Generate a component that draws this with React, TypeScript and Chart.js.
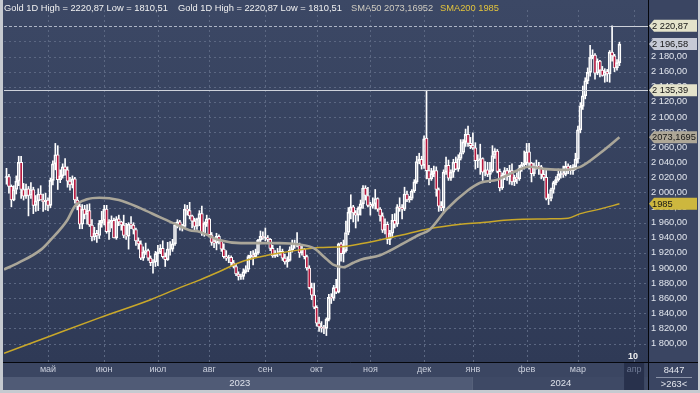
import React, { useEffect, useRef } from "react";
import { Chart, registerables } from "chart.js";
Chart.register(...registerables);

const FONT = '"Liberation Sans", Arial, sans-serif';

// [open, high, low, close] per trading day
const apr23 = [
  [2020, 2032, 2011, 2021], [2021, 2024, 1999, 2008], [2008, 2010, 1981, 1990], [1990, 2009, 1989, 2004],
  [2004, 2022, 1998, 2015], [2015, 2048, 2009, 2040], [2040, 2048, 1992, 2004], [2004, 2012, 1990, 1995],
  [1995, 2011, 1992, 2005], [2005, 2008, 1969, 1996], [1996, 2013, 1992, 2004], [2004, 2007, 1972, 1983],
  [1983, 1996, 1975, 1989], [1989, 2005, 1976, 1998], [1998, 2009, 1992, 1990], [1990, 1998, 1975, 1988],
  [1988, 1999, 1977, 1990],
];
const may23 = [
  [1990, 1993, 1976, 1983], [1983, 2019, 1980, 2016], [2016, 2042, 2010, 2038], [2038, 2065, 2030, 2050],
  [2050, 2062, 2004, 2017], [2017, 2030, 2013, 2022], [2022, 2038, 2019, 2034], [2034, 2045, 2023, 2030],
  [2030, 2034, 2007, 2015], [2015, 2020, 2003, 2010], [2010, 2022, 2006, 2018], [2018, 2020, 1986, 1990],
  [1990, 1994, 1977, 1982], [1982, 1985, 1952, 1958], [1958, 1984, 1952, 1978], [1978, 1983, 1965, 1971],
  [1971, 1984, 1958, 1976], [1976, 1985, 1955, 1957], [1957, 1964, 1936, 1941], [1941, 1954, 1937, 1946],
  [1946, 1950, 1934, 1943], [1943, 1963, 1939, 1959], [1959, 1975, 1954, 1963],
];
const jun23 = [
  [1963, 1983, 1957, 1978], [1978, 1983, 1946, 1948], [1948, 1964, 1938, 1961], [1961, 1969, 1953, 1963],
  [1963, 1966, 1940, 1940], [1940, 1968, 1938, 1965], [1965, 1970, 1956, 1961], [1961, 1962, 1950, 1957],
  [1957, 1970, 1940, 1943], [1943, 1959, 1938, 1942], [1942, 1960, 1925, 1958], [1958, 1968, 1952, 1957],
  [1957, 1960, 1945, 1951], [1951, 1953, 1930, 1936], [1936, 1940, 1925, 1932], [1932, 1936, 1911, 1913],
  [1913, 1928, 1910, 1921], [1921, 1933, 1918, 1923], [1923, 1925, 1910, 1913], [1913, 1916, 1903, 1907],
  [1907, 1911, 1893, 1908], [1908, 1922, 1902, 1919],
];
const jul23 = [
  [1919, 1930, 1903, 1921], [1921, 1931, 1919, 1926], [1926, 1936, 1913, 1915], [1915, 1920, 1902, 1911],
  [1911, 1934, 1910, 1925], [1925, 1935, 1917, 1925], [1925, 1938, 1922, 1932], [1932, 1960, 1930, 1957],
  [1957, 1964, 1953, 1961], [1961, 1963, 1950, 1955], [1955, 1958, 1949, 1955], [1955, 1984, 1953, 1978],
  [1978, 1983, 1970, 1976], [1976, 1987, 1965, 1969], [1969, 1970, 1953, 1962], [1962, 1966, 1950, 1955],
  [1955, 1966, 1951, 1965], [1965, 1976, 1956, 1972], [1972, 1982, 1943, 1946], [1946, 1961, 1942, 1959],
  [1959, 1970, 1955, 1965],
];
const aug23 = [
  [1965, 1966, 1941, 1944], [1944, 1947, 1930, 1934], [1934, 1938, 1927, 1933], [1933, 1946, 1924, 1942],
  [1942, 1944, 1932, 1936], [1936, 1937, 1922, 1925], [1925, 1932, 1913, 1915], [1915, 1923, 1910, 1913],
  [1913, 1917, 1907, 1914], [1914, 1916, 1903, 1907], [1907, 1910, 1900, 1902], [1902, 1905, 1890, 1892],
  [1892, 1895, 1884, 1889], [1889, 1892, 1885, 1889], [1889, 1899, 1885, 1895], [1895, 1903, 1893, 1898],
  [1898, 1917, 1895, 1915], [1915, 1922, 1912, 1917], [1917, 1923, 1904, 1915], [1915, 1925, 1914, 1920],
  [1920, 1938, 1918, 1937], [1937, 1949, 1932, 1942], [1942, 1948, 1938, 1940],
];
const sep23 = [
  [1940, 1953, 1936, 1940], [1940, 1943, 1934, 1938], [1938, 1939, 1923, 1926], [1926, 1930, 1914, 1916],
  [1916, 1923, 1914, 1919], [1919, 1926, 1915, 1919], [1919, 1929, 1917, 1922], [1922, 1925, 1910, 1913],
  [1913, 1918, 1905, 1908], [1908, 1915, 1901, 1910], [1910, 1928, 1909, 1924], [1924, 1937, 1921, 1933],
  [1933, 1937, 1926, 1931], [1931, 1947, 1928, 1930], [1930, 1933, 1914, 1920], [1920, 1930, 1917, 1925],
  [1925, 1926, 1912, 1915], [1915, 1917, 1897, 1900], [1900, 1903, 1872, 1874], [1874, 1880, 1858, 1864],
  [1864, 1880, 1846, 1848],
];
const oct23 = [
  [1848, 1850, 1823, 1827], [1827, 1835, 1816, 1822], [1822, 1829, 1815, 1821], [1821, 1824, 1813, 1820],
  [1820, 1834, 1810.51, 1832], [1832, 1865, 1830, 1861], [1861, 1866, 1853, 1860], [1860, 1877, 1857, 1874],
  [1874, 1885, 1866, 1868], [1868, 1933, 1867, 1932], [1932, 1934, 1909, 1919], [1919, 1937, 1908, 1923],
  [1923, 1962, 1921, 1947], [1947, 1980, 1944, 1974], [1974, 1997, 1965, 1981], [1981, 1983, 1961, 1973],
  [1973, 1976, 1953, 1970], [1970, 1981, 1962, 1979], [1979, 1990, 1970, 1985], [1985, 2009, 1979, 2006],
  [2006, 2009, 1990, 1996], [1996, 2007, 1981, 1983],
];
const nov23 = [
  [1983, 1987, 1970, 1982], [1982, 1993, 1979, 1985], [1985, 2004, 1978, 1992], [1992, 1993, 1975, 1978],
  [1978, 1980, 1962, 1969], [1969, 1973, 1947, 1950], [1950, 1965, 1945, 1958], [1958, 1961, 1932, 1938],
  [1938, 1950, 1931, 1946], [1946, 1971, 1940, 1963], [1963, 1972, 1953, 1958], [1958, 1984, 1955, 1981],
  [1981, 1993, 1975, 1980], [1980, 1984, 1965, 1978], [1978, 2007, 1976, 1998], [1998, 2002, 1988, 1990],
  [1990, 1995, 1987, 1992], [1992, 2004, 1990, 2002], [2002, 2017, 2000, 2014], [2014, 2048, 2012, 2041],
  [2041, 2052, 2038, 2044], [2044, 2048, 2031, 2036],
];
const dec23 = [
  [2036, 2075, 2032, 2071], [2072, 2135.39, 2018, 2029], [2029, 2036, 2010, 2018], [2018, 2032, 2016, 2025],
  [2025, 2035, 2021, 2029], [2029, 2034, 1995, 2004], [2004, 2006, 1975, 1982], [1982, 1988, 1976, 1980],
  [1980, 2030, 1973, 2027], [2027, 2047, 2024, 2036], [2036, 2043, 2016, 2019], [2019, 2030, 2016, 2027],
  [2027, 2044, 2020, 2040], [2040, 2047, 2030, 2031], [2031, 2050, 2028, 2045], [2045, 2070, 2043, 2053],
  [2053, 2070, 2051, 2067], [2067, 2084, 2061, 2077], [2077, 2088, 2061, 2065], [2065, 2073, 2058, 2062],
];
const jan24 = [
  [2062, 2079, 2057, 2059], [2059, 2066, 2031, 2042], [2042, 2050, 2033, 2043], [2043, 2064, 2024, 2045],
  [2045, 2046, 2016, 2027], [2027, 2041, 2022, 2030], [2030, 2040, 2021, 2024], [2024, 2040, 2013, 2029],
  [2029, 2062, 2027, 2049], [2049, 2058, 2045, 2055], [2055, 2057, 2026, 2028], [2028, 2031, 2002, 2006],
  [2006, 2026, 2004, 2023], [2023, 2033, 2017, 2029], [2029, 2032, 2016, 2021], [2021, 2036, 2011, 2029],
  [2029, 2038, 2010, 2014], [2014, 2023, 2009, 2020], [2020, 2026, 2012, 2018], [2018, 2036, 2016, 2032],
  [2032, 2040, 2028, 2037], [2037, 2055, 2031, 2039],
];
const feb24 = [
  [2039, 2065, 2036, 2054], [2054, 2065, 2031, 2039], [2039, 2040, 2014, 2025], [2025, 2039, 2022, 2035],
  [2035, 2043, 2031, 2035], [2035, 2040, 2024, 2034], [2034, 2036, 2018, 2024], [2024, 2032, 2016, 2020],
  [2020, 2031, 1990, 1992], [1992, 1998, 1984, 1992], [1992, 2006, 1989, 2004], [2004, 2015, 1999, 2013],
  [2013, 2021, 2010, 2017], [2017, 2031, 2015, 2024], [2024, 2030, 2019, 2025], [2025, 2035, 2020, 2024],
  [2024, 2041, 2022, 2035], [2035, 2038, 2025, 2031], [2031, 2036, 2024, 2029], [2029, 2037, 2024, 2034],
  [2034, 2052, 2030, 2044],
];
const mar24 = [
  [2044, 2088, 2039, 2083], [2083, 2119, 2079, 2114], [2114, 2141, 2110, 2128], [2128, 2152, 2124, 2148],
  [2148, 2165, 2144, 2159], [2159, 2195, 2154, 2179], [2179, 2189, 2177, 2182], [2182, 2184, 2150, 2158],
  [2158, 2177, 2156, 2174], [2174, 2175, 2153, 2162], [2162, 2167, 2154, 2155], [2155, 2164, 2146, 2160],
  [2160, 2163, 2147, 2157], [2157, 2188, 2146, 2186], [2186, 2220.87, 2174, 2181], [2181, 2183, 2160, 2165],
  [2165, 2176, 2162, 2172], [2172, 2199, 2168, 2196.58],
];

const monthBlocks = [apr23, may23, jun23, jul23, aug23, sep23, oct23, nov23, dec23, jan24, feb24, mar24];
const monthNames = ["май", "июн", "июл", "авг", "сен", "окт", "ноя", "дек", "янв", "фев", "мар", "апр"];
const aprIndex = 257; // axis position of the (future) April label
const yearNames = ["2023", "2024"];
const yearLabelIdx = [95.5, 227];

// moving averages (candle index -> value)
const sma50At = [-1, 5, 14, 18, 25, 28, 33, 38, 46, 55, 63, 70, 75, 79, 87, 96, 104, 112, 120, 126, 130, 134, 138, 142, 145, 153, 161, 169, 173, 180, 189, 194, 201, 207, 214, 221, 228, 235, 243, 251];
const sma50Val = [1898, 1907, 1924, 1937, 1964, 1982, 1991, 1993, 1990, 1979, 1967, 1957, 1950, 1948, 1937, 1933, 1933, 1933, 1931, 1926, 1915, 1904, 1901, 1907, 1911, 1917, 1930, 1944, 1950, 1977, 2003, 2013, 2017, 2026, 2034, 2031, 2030, 2034, 2052, 2073.17];
const sma200At = [-1, 18, 38, 59, 71, 79, 87, 96, 104, 112, 120, 128, 137, 145, 161, 173, 186, 194, 207, 221, 230, 235, 243, 251];
const sma200Val = [1787, 1810, 1834, 1858, 1874, 1884, 1895, 1908, 1915, 1920, 1924, 1927, 1928, 1932, 1943, 1952, 1958, 1960, 1964, 1965, 1966, 1972, 1978, 1985];

const yTicks = [1800, 1820, 1840, 1860, 1880, 1900, 1920, 1940, 1960, 1980, 2000, 2020, 2040, 2060, 2080, 2100, 2120, 2140, 2160, 2180, 2200, 2220];
const markerValues = [2220.87, 2196.58, 2135.39, 2073.1695, 1985];
const markerTexts = ["2 220,87", "2 196,58", "2 135,39", "2073,1695", "1985"];
const markerColors = ["#e4e3cb", "#c6cad6", "#e4e3cb", "#aea797", "#cdb73e"];
const highValue = 2220.87;
const levelValue = 2135.39;

const headerItems = [
  { text: "Gold 1D High = 2220,87 Low = 1810,51", x: 4, color: "#f2f2f2" },
  { text: "Gold 1D High = 2220,87 Low = 1810,51", x: 178, color: "#f2f2f2" },
  { text: "SMA50 2073,16952", x: 351, color: "#cfcbc0" },
  { text: "SMA200 1985", x: 440, color: "#e3c43c" },
];
const cornerTop = "8447";
const cornerBottom = ">263<";
const barsLabel = "10";

const Y_MIN = 1775.5;
const Y_MAX = 2241.7;
const X_MIN = -1.02;
const X_MAX = 262.7;

const candles = monthBlocks.flat();

function fmtTick(v: number): string {
  const s = v.toFixed(2);
  const [i, d] = s.split(".");
  return i.replace(/\B(?=(\d{3})+(?!\d))/g, " ") + "," + d;
}

function monthStarts(): number[] {
  let idx = 0;
  const starts: number[] = [];
  monthBlocks.forEach((m, k) => { if (k > 0) starts.push(idx); idx += m.length; });
  return starts;
}

const decorPlugin = {
  id: "decor",
  beforeDraw(chart: any) {
    const { ctx, chartArea: a } = chart;
    const W = chart.width, H = chart.height;
    ctx.save();
    ctx.fillStyle = "#c6cad0";
    ctx.fillRect(0, 0, W, H);
    const g = ctx.createLinearGradient(0, 0, 0, a.bottom);
    g.addColorStop(0, "#3c4865");
    g.addColorStop(1, "#2f3a56");
    ctx.fillStyle = g;
    ctx.fillRect(3, 0, a.right - 3, a.bottom);
    ctx.fillStyle = "#3a4562";
    ctx.fillRect(a.right, 0, W - a.right - 2, a.bottom);
    ctx.fillStyle = "#3b4662";
    ctx.fillRect(3, a.bottom, a.right - 3, 15);
    const x = chart.scales.x;
    const janX = x.getPixelForValue(monthStarts()[8]);
    ctx.fillStyle = "#505b76";
    ctx.fillRect(3, a.bottom + 15, janX - 3, 13);
    ctx.fillStyle = "#3e4965";
    ctx.fillRect(janX, a.bottom + 15, a.right - janX, 13);
    ctx.fillStyle = "#3a4562";
    ctx.fillRect(a.right, a.bottom, W - a.right - 2, 28);
    ctx.restore();
  },
  beforeDatasetsDraw(chart: any) {
    const { ctx, chartArea: a } = chart;
    const x = chart.scales.x, y = chart.scales.y;
    ctx.save();
    ctx.beginPath();
    ctx.rect(a.left, a.top, a.right - a.left, a.bottom - a.top);
    ctx.clip();
    ctx.strokeStyle = "#5b6782";
    ctx.lineWidth = 1;
    ctx.setLineDash([2, 3]);
    for (const v of yTicks) {
      const py = Math.round(y.getPixelForValue(v)) + 0.5;
      ctx.beginPath();
      ctx.moveTo(a.left, py);
      ctx.lineTo(a.right, py);
      ctx.stroke();
    }
    const starts = monthStarts();
    starts.push(aprIndex);
    for (const s of starts) {
      const px = Math.round(x.getPixelForValue(s)) + 0.5;
      ctx.beginPath();
      ctx.moveTo(px, a.top);
      ctx.lineTo(px, a.bottom);
      ctx.stroke();
    }
    // high level: bright dashed line across the plot
    const hiY = Math.round(y.getPixelForValue(highValue)) + 0.5;
    ctx.strokeStyle = "#aeb6c6";
    ctx.setLineDash([3, 2]);
    ctx.beginPath();
    ctx.moveTo(a.left, hiY);
    ctx.lineTo(a.right, hiY);
    ctx.stroke();
    ctx.restore();
  },
  afterDraw(chart: any) {
    const { ctx, chartArea: a } = chart;
    const x = chart.scales.x, y = chart.scales.y;
    const W = chart.width, H = chart.height;
    ctx.save();
    ctx.strokeStyle = "#cdd1da";
    ctx.lineWidth = 1;
    const lvY = Math.round(y.getPixelForValue(levelValue)) + 0.5;
    ctx.beginPath();
    ctx.moveTo(a.left, lvY);
    ctx.lineTo(a.right, lvY);
    ctx.stroke();
    let hiIdx = 0;
    candles.forEach((c, i) => { if (c[1] === highValue) hiIdx = i; });
    const hiY = Math.round(y.getPixelForValue(highValue)) + 0.5;
    ctx.beginPath();
    ctx.moveTo(x.getPixelForValue(hiIdx), hiY);
    ctx.lineTo(a.right, hiY);
    ctx.stroke();

    ctx.strokeStyle = "#05070c";
    ctx.beginPath();
    ctx.moveTo(a.right + 0.5, 0);
    ctx.lineTo(a.right + 0.5, H - 3);
    ctx.moveTo(3, a.bottom + 0.5);
    ctx.lineTo(W - 2, a.bottom + 0.5);
    ctx.stroke();

    ctx.font = `9.3px ${FONT}`;
    ctx.textBaseline = "alphabetic";
    ctx.textAlign = "left";
    for (const h of headerItems) {
      ctx.fillStyle = h.color;
      ctx.fillText(h.text, h.x, 11);
    }

    markerValues.forEach((v, i) => {
      const py = y.getPixelForValue(v);
      const x0 = a.right + 1;
      ctx.fillStyle = markerColors[i];
      ctx.beginPath();
      ctx.moveTo(x0, py);
      ctx.lineTo(x0 + 5, py - 6);
      ctx.lineTo(W - 3, py - 6);
      ctx.lineTo(W - 3, py + 6);
      ctx.lineTo(x0 + 5, py + 6);
      ctx.closePath();
      ctx.fill();
      ctx.fillStyle = "#161616";
      ctx.font = `9.3px ${FONT}`;
      ctx.textBaseline = "middle";
      ctx.fillText(markerTexts[i], x0 + 3, py + 0.5);
    });

    ctx.textAlign = "center";
    ctx.textBaseline = "middle";
    ctx.font = `9px ${FONT}`;
    monthStarts().forEach((s, k) => {
      ctx.fillStyle = "#c9cedb";
      ctx.fillText(monthNames[k], x.getPixelForValue(s), a.bottom + 8);
    });
    const ax = x.getPixelForValue(aprIndex);
    ctx.fillStyle = "#28314c";
    ctx.fillRect(ax - 10, a.bottom + 1, 20, 27);
    ctx.fillStyle = "#6d7893";
    ctx.fillText(monthNames[11], ax, a.bottom + 8);
    ctx.font = `9.5px ${FONT}`;
    ctx.fillStyle = "#dde1ea";
    yearNames.forEach((t, k) => ctx.fillText(t, x.getPixelForValue(yearLabelIdx[k]), a.bottom + 21));

    ctx.font = `bold 9px ${FONT}`;
    ctx.fillStyle = "#f0f0f0";
    ctx.fillText(barsLabel, ax - 1, a.bottom - 5);

    ctx.font = `9.3px ${FONT}`;
    ctx.fillStyle = "#e4e7ee";
    const cx = (a.right + W) / 2;
    ctx.fillText(cornerTop, cx, a.bottom + 8);
    ctx.fillText(cornerBottom, cx, a.bottom + 22);
    ctx.strokeStyle = "#8a93a8";
    ctx.beginPath();
    ctx.moveTo(a.right + 8, a.bottom + 15.5);
    ctx.lineTo(W - 8, a.bottom + 15.5);
    ctx.stroke();
    ctx.restore();
  },
};

export default function App() {
  const ref = useRef<HTMLCanvasElement>(null);
  useEffect(() => {
    const canvas = ref.current;
    if (!canvas) return;
    const bodies = candles.map((c, i) => ({ x: i, y: [Math.min(c[0], c[3]), Math.max(c[0], c[3]) + (c[0] === c[3] ? 0.4 : 0)] }));
    const upper = candles.map((c, i) => ({ x: i, y: [Math.max(c[0], c[3]), c[1]] }));
    const lower = candles.map((c, i) => ({ x: i, y: [c[2], Math.min(c[0], c[3])] }));
    const chart = new Chart(canvas, {
      type: "bar",
      data: {
        datasets: [
          {
            type: "line",
            label: "SMA50",
            data: sma50At.map((v, i) => ({ x: v, y: sma50Val[i] })),
            borderColor: "#aaa699",
            borderWidth: 2.6,
            pointRadius: 0,
            cubicInterpolationMode: "monotone",
            order: 1,
          } as any,
          {
            type: "line",
            label: "SMA200",
            data: sma200At.map((v, i) => ({ x: v, y: sma200Val[i] })),
            borderColor: "#c9a82a",
            borderWidth: 1.5,
            pointRadius: 0,
            cubicInterpolationMode: "monotone",
            order: 2,
          } as any,
          {
            type: "bar",
            label: "body",
            data: bodies,
            backgroundColor: candles.map((c) => (c[3] >= c[0] ? "rgba(0,0,0,0)" : "#b4173d")),
            borderColor: "#ffffff",
            borderWidth: 1,
            borderSkipped: false,
            barThickness: 3,
            grouped: false,
            order: 3,
          } as any,
          {
            type: "bar",
            label: "upper",
            data: upper,
            backgroundColor: "#ffffff",
            barThickness: 1,
            grouped: false,
            order: 4,
          } as any,
          {
            type: "bar",
            label: "lower",
            data: lower,
            backgroundColor: "#ffffff",
            barThickness: 1,
            grouped: false,
            order: 5,
          } as any,
        ],
      },
      options: {
        animation: false,
        responsive: false,
        maintainAspectRatio: false,
        layout: { padding: { left: 4, top: 10, bottom: 31, right: 0 } },
        plugins: { legend: { display: false }, tooltip: { enabled: false } },
        scales: {
          x: { type: "linear", min: X_MIN, max: X_MAX, display: false, offset: false },
          y: {
            position: "right",
            min: Y_MIN,
            max: Y_MAX,
            grid: { display: false, drawTicks: false, tickLength: 0 },
            border: { display: false },
            afterBuildTicks: (s: any) => { s.ticks = yTicks.map((v) => ({ value: v })); },
            afterFit: (s: any) => { s.width = 52; },
            ticks: {
              color: "#e2e6ee",
              font: { family: FONT, size: 9.3 },
              padding: 3,
              callback: (v: any) => fmtTick(Number(v)),
            },
          },
        },
      } as any,
      plugins: [decorPlugin],
    });
    return () => chart.destroy();
  }, []);
  return (
    <div style={{ position: "fixed", left: 0, top: 0, width: 700, height: 393 }}>
      <canvas ref={ref} width={700} height={393} style={{ display: "block", width: 700, height: 393 }} />
    </div>
  );
}
